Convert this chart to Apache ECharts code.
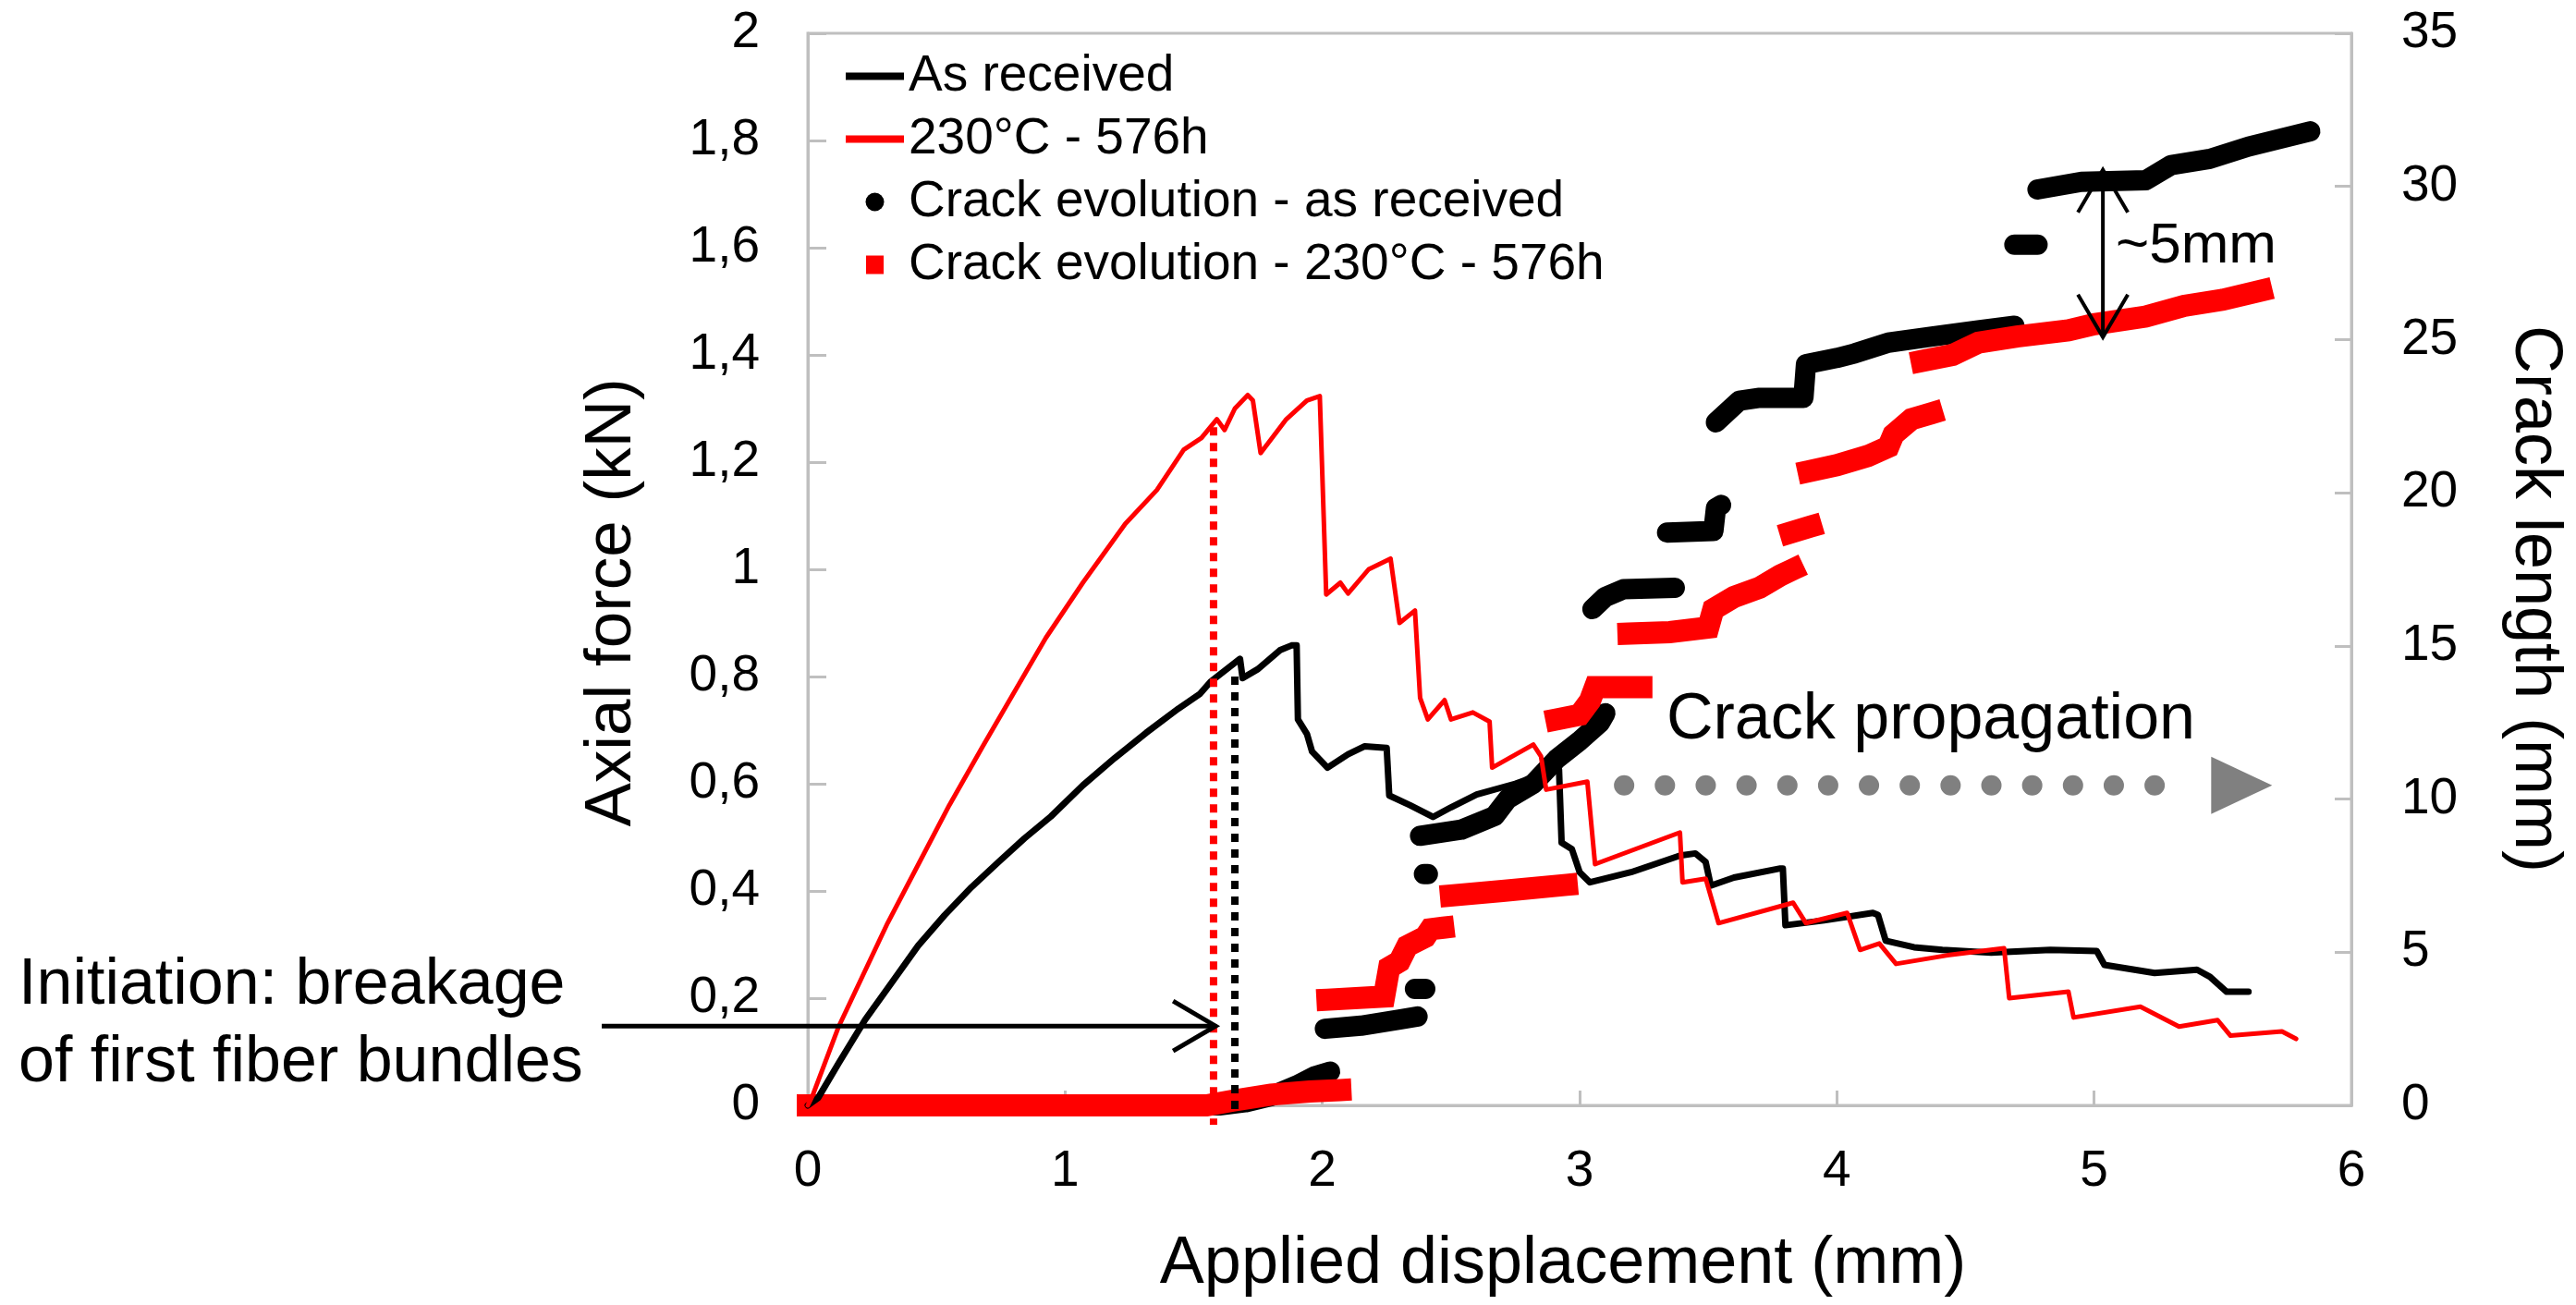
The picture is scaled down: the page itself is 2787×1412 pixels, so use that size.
<!DOCTYPE html>
<html><head><meta charset="utf-8">
<script src="https://cdn.jsdelivr.net/npm/echarts@6/dist/echarts.min.js"></script>
<style>html,body{margin:0;padding:0;background:#fff}#c{width:2787px;height:1412px}</style>
</head><body><div id="c"></div>
<script>
const FONT = "'Liberation Sans', Arial, Helvetica, sans-serif";

// tick labels
const displacementTicks = ['0','1','2','3','4','5','6'];
const forceTicks = ['0','0,2','0,4','0,6','0,8','1','1,2','1,4','1,6','1,8','2'];
const crackTicks = ['0','5','10','15','20','25','30','35'];

// Axial force (kN) vs applied displacement (mm)
const forceAsReceived = [
  [0,0],[0.04,0.014],[0.12,0.079],[0.223,0.16],[0.326,0.229],[0.429,0.298],[0.532,0.355],[0.636,0.407],
  [0.739,0.453],[0.842,0.498],[0.945,0.539],[1.069,0.597],[1.193,0.648],[1.315,0.695],[1.44,0.74],
  [1.525,0.768],[1.565,0.79],[1.68,0.833],[1.69,0.797],[1.75,0.814],[1.835,0.849],[1.88,0.858],
  [1.90,0.858],[1.905,0.72],[1.94,0.693],[1.96,0.66],[2.02,0.63],[2.1,0.655],[2.165,0.67],[2.25,0.667],
  [2.26,0.578],[2.34,0.56],[2.43,0.538],[2.50,0.556],[2.6,0.58],[2.75,0.6],[2.9,0.626],[2.92,0.626],
  [2.93,0.49],[2.97,0.478],[3.0,0.435],[3.04,0.416],[3.2,0.435],[3.39,0.466],[3.45,0.47],[3.49,0.454],
  [3.51,0.41],[3.6,0.425],[3.78,0.442],[3.79,0.442],[3.80,0.336],[3.95,0.345],[4.14,0.359],[4.16,0.355],
  [4.19,0.307],[4.3,0.295],[4.41,0.29],[4.6,0.285],[4.83,0.29],[5.01,0.288],[5.04,0.262],[5.235,0.247],
  [5.40,0.253],[5.45,0.24],[5.515,0.212],[5.60,0.212]
];
const force230 = [
  [0,0],[0.02,0.02],[0.12,0.147],[0.31,0.34],[0.43,0.45],[0.55,0.56],[0.68,0.67],[0.80,0.769],
  [0.925,0.872],[1.069,0.975],[1.234,1.085],[1.357,1.148],[1.461,1.223],[1.53,1.245],
  [1.59,1.28],[1.62,1.26],[1.66,1.30],[1.71,1.325],
  [1.73,1.315],[1.76,1.217],[1.86,1.28],[1.94,1.315],[1.99,1.323],[2.015,0.953],[2.07,0.975],[2.10,0.955],
  [2.18,1.00],[2.265,1.02],[2.30,0.90],[2.36,0.923],[2.38,0.76],[2.41,0.72],[2.475,0.756],[2.50,0.72],
  [2.585,0.733],[2.65,0.716],[2.66,0.63],[2.82,0.673],[2.85,0.651],[2.87,0.589],[3.03,0.604],[3.06,0.45],
  [3.39,0.509],[3.40,0.416],[3.49,0.423],[3.54,0.34],[3.83,0.378],[3.88,0.34],[4.04,0.359],[4.09,0.29],
  [4.165,0.302],[4.23,0.264],[4.43,0.28],[4.65,0.293],[4.67,0.20],[4.90,0.212],[4.92,0.164],[5.18,0.184],
  [5.33,0.147],[5.48,0.159],[5.53,0.13],[5.73,0.138],[5.785,0.124]
];

// Crack length (mm) vs applied displacement (mm); '-' marks a gap between groups
const BR = ['-','-'];
const crackAsReceived = [
  [0,0],[0.8,0],[1.6,0],[1.7,0.1],[1.8,0.3],[1.9,0.65],[1.97,0.95],[2.03,1.1], BR,
  [2.01,2.5],[2.15,2.6],[2.3,2.8],[2.37,2.9], BR,
  [2.36,3.8],[2.40,3.8], BR,
  [2.395,7.55],[2.41,7.55], BR,
  [2.38,8.8],[2.54,9.0],[2.67,9.45],[2.72,10.0],[2.82,10.5],[2.91,11.3],[3.0,11.9],[3.08,12.5],[3.1,12.8], BR,
  [3.05,16.2],[3.10,16.6],[3.17,16.85],[3.37,16.9], BR,
  [3.34,18.7],[3.52,18.75],[3.53,19.5],[3.55,19.6], BR,
  [3.53,22.3],[3.62,23.0],[3.7,23.1],[3.87,23.1],[3.88,24.2],[4.0,24.4],[4.07,24.55],[4.2,24.9],[4.37,25.1],[4.55,25.3],[4.69,25.45], BR,
  [4.69,28.1],[4.78,28.1], BR,
  [4.78,29.9],[4.95,30.15],[5.2,30.2],[5.3,30.7],[5.45,30.9],[5.6,31.3],[5.84,31.8]
];
const crack230 = [
  [0,0],[0.8,0],[1.55,0],[1.65,0.15],[1.8,0.35],[1.95,0.45],[2.07,0.5], BR,
  [2.02,3.45],[2.24,3.55],[2.26,4.5],[2.3,4.7],[2.33,5.2],[2.4,5.5],[2.42,5.75],[2.47,5.8], BR,
  [2.5,6.85],[2.7,7.0],[2.95,7.2], BR,
  [2.91,12.6],[3.0,12.75],[3.04,13.2],[3.06,13.65],[3.24,13.65], BR,
  [3.19,15.4],[3.35,15.45],[3.5,15.6],[3.52,16.2],[3.6,16.6],[3.7,16.9],[3.78,17.3],[3.83,17.5], BR,
  [3.82,18.7],[3.9,18.9], BR,
  [3.89,20.7],[4.0,20.9],[4.12,21.2],[4.2,21.5],[4.22,21.9],[4.29,22.4],[4.37,22.6], BR,
  [4.33,24.3],[4.45,24.5],[4.55,24.9],[4.7,25.1],[4.9,25.3],[5.0,25.5],[5.2,25.75],[5.35,26.1],[5.5,26.3],[5.65,26.6]
];

// annotation anchors (data coordinates)
const initiationAR = [[1.66,0.80],[1.66,-0.012]];
const initiation230 = [[1.577,1.265],[1.577,-0.036]];
const propagationDots = [[3.173,0.597],[5.393,0.597]];
const propagationTip = [5.692,0.597];
const propagationBaseX = 5.455;
const initArrow = [[-0.801,0.148],[1.585,0.148]];
const gapArrow = [[5.034,30.54],[5.034,25.08]];

const chart = echarts.init(document.getElementById('c'), null, {renderer:'canvas'});
const gray = '#bfbfbf';
const axisCommon = (labels, step, tickLen, margin) => ({
  type:'value',
  axisLine:{show:true, onZero:false, lineStyle:{color:gray, width:3}},
  axisTick:{show:true, inside:true, length:tickLen, lineStyle:{color:gray, width:3}},
  axisLabel:{show:true, margin:margin, fontSize:55, color:'#000', fontFamily:FONT, showMinLabel:true, showMaxLabel:true,
    formatter:(v)=>labels[Math.round(v/step)]},
  splitLine:{show:false}
});

const option = {
  animation:false,
  backgroundColor:'#fff',
  grid:{left:874, right:243, top:36, bottom:216, show:true, borderColor:gray, borderWidth:3, outerBoundsMode:'none', containLabel:false},
  xAxis:Object.assign(axisCommon(displacementTicks,1,16,44),{min:0,max:6,interval:1,position:'bottom'}),
  yAxis:[
    Object.assign(axisCommon(forceTicks,0.2,20,52),{min:0,max:2,interval:0.2,position:'left'}),
    Object.assign(axisCommon(crackTicks,5,18,54),{min:0,max:35,interval:5,position:'right'})
  ],
  legend:{
    left:910, top:50, orient:'vertical', itemWidth:63, itemHeight:20, itemGap:13, selectedMode:false,
    textStyle:{fontSize:55, lineHeight:55, color:'#000', fontFamily:FONT},
    data:[
      {name:'As received', icon:'path://M0,0H63V8H0Z'},
      {name:'230°C - 576h', icon:'path://M0,0H63V8H0Z'},
      {name:'Crack evolution - as received', icon:'circle'},
      {name:'Crack evolution - 230°C - 576h', icon:'path://M0,0H20V21H0Z'}
    ]
  },
  series:[
    {name:'Crack evolution - as received', type:'line', xAxisIndex:0, yAxisIndex:1, data:crackAsReceived,
      color:'#000', symbol:'none', showSymbol:false, clip:false, connectNulls:false,
      itemStyle:{color:'#000'}, lineStyle:{color:'#000', width:22, cap:'round', join:'round'}},
    {name:'Crack evolution - 230°C - 576h', type:'line', xAxisIndex:0, yAxisIndex:1, data:crack230,
      color:'#ff0000', symbol:'none', showSymbol:false, clip:false, connectNulls:false,
      itemStyle:{color:'#ff0000'}, lineStyle:{color:'#ff0000', width:24, cap:'square', join:'miter'}},
    {name:'As received', type:'line', xAxisIndex:0, yAxisIndex:0, data:forceAsReceived,
      color:'#000', symbol:'none', showSymbol:false, clip:false,
      itemStyle:{color:'#000'}, lineStyle:{color:'#000', width:7, join:'round', cap:'round'}},
    {name:'230°C - 576h', type:'line', xAxisIndex:0, yAxisIndex:0, data:force230,
      color:'#ff0000', symbol:'none', showSymbol:false, clip:false,
      itemStyle:{color:'#ff0000'}, lineStyle:{color:'#ff0000', width:5, join:'round', cap:'round'}},
    {type:'line', xAxisIndex:0, yAxisIndex:0, data:initiation230, symbol:'none', clip:false, silent:true, z:5,
      lineStyle:{color:'#ff0000', width:8, type:[9,8], cap:'butt'}},
    {type:'line', xAxisIndex:0, yAxisIndex:0, data:initiationAR, symbol:'none', clip:false, silent:true, z:5,
      lineStyle:{color:'#000', width:8, type:[9,8], cap:'butt'}},
    {type:'line', xAxisIndex:0, yAxisIndex:0, data:propagationDots, symbol:'none', clip:false, silent:true, z:5,
      lineStyle:{color:'#808080', width:22, type:[0.01,44.14], cap:'round'}}
  ]
};
chart.setOption(option);

const PF = (p)=>chart.convertToPixel({seriesIndex:2}, p);
const PC = (p)=>chart.convertToPixel({seriesIndex:0}, p);
const g = [];
function poly(points, color, w){ g.push({type:'polyline', z:100, shape:{points:points}, style:{stroke:color, lineWidth:w, fill:null, lineJoin:'miter'}}); }
function txt(t, x, y, size, opts){ g.push(Object.assign({type:'text', z:100, x:x, y:y, style:{text:t, fontSize:size, fontFamily:FONT, fill:'#000', align:'left', verticalAlign:'middle'}}, opts||{})); }

// initiation arrow
const a0 = PF(initArrow[0]), a1 = PF(initArrow[1]);
poly([a0,a1],'#000',5);
poly([[a1[0]-46,a1[1]-27],[a1[0],a1[1]],[a1[0]-46,a1[1]+27]],'#000',5);
// ~5mm double arrow
const b0 = PC(gapArrow[0]), b1 = PC(gapArrow[1]);
poly([b0,b1],'#000',4);
poly([[b0[0]-27,b0[1]+46],[b0[0],b0[1]],[b0[0]+27,b0[1]+46]],'#000',4);
poly([[b1[0]-27,b1[1]-46],[b1[0],b1[1]],[b1[0]+27,b1[1]-46]],'#000',4);
// propagation arrow head
const tp = PF(propagationTip), tb = PF([propagationBaseX, propagationTip[1]]);
g.push({type:'polygon', z:100, shape:{points:[[tp[0],tp[1]],[tb[0],tb[1]-31],[tb[0],tb[1]+31]]}, style:{fill:'#808080'}});

// texts
txt('Initiation: breakage', 20, 1067, 70);
txt('of first fiber bundles', 20, 1151, 70);
txt('Crack propagation', 1803, 780, 70);
txt('~5mm', 2289, 267, 62);
g.push({type:'text', z:100, x:1691, y:1368, style:{text:'Applied displacement (mm)', fontSize:72, fontFamily:FONT, fill:'#000', align:'center', verticalAlign:'middle'}});
g.push({type:'text', z:100, x:662, y:652, rotation:Math.PI/2, style:{text:'Axial force (kN)', fontSize:71, fontFamily:FONT, fill:'#000', align:'center', verticalAlign:'middle'}});
g.push({type:'text', z:100, x:2742, y:648, rotation:-Math.PI/2, style:{text:'Crack length (mm)', fontSize:72, fontFamily:FONT, fill:'#000', align:'center', verticalAlign:'middle'}});

chart.setOption({graphic:{elements:g}});
</script></body></html>
